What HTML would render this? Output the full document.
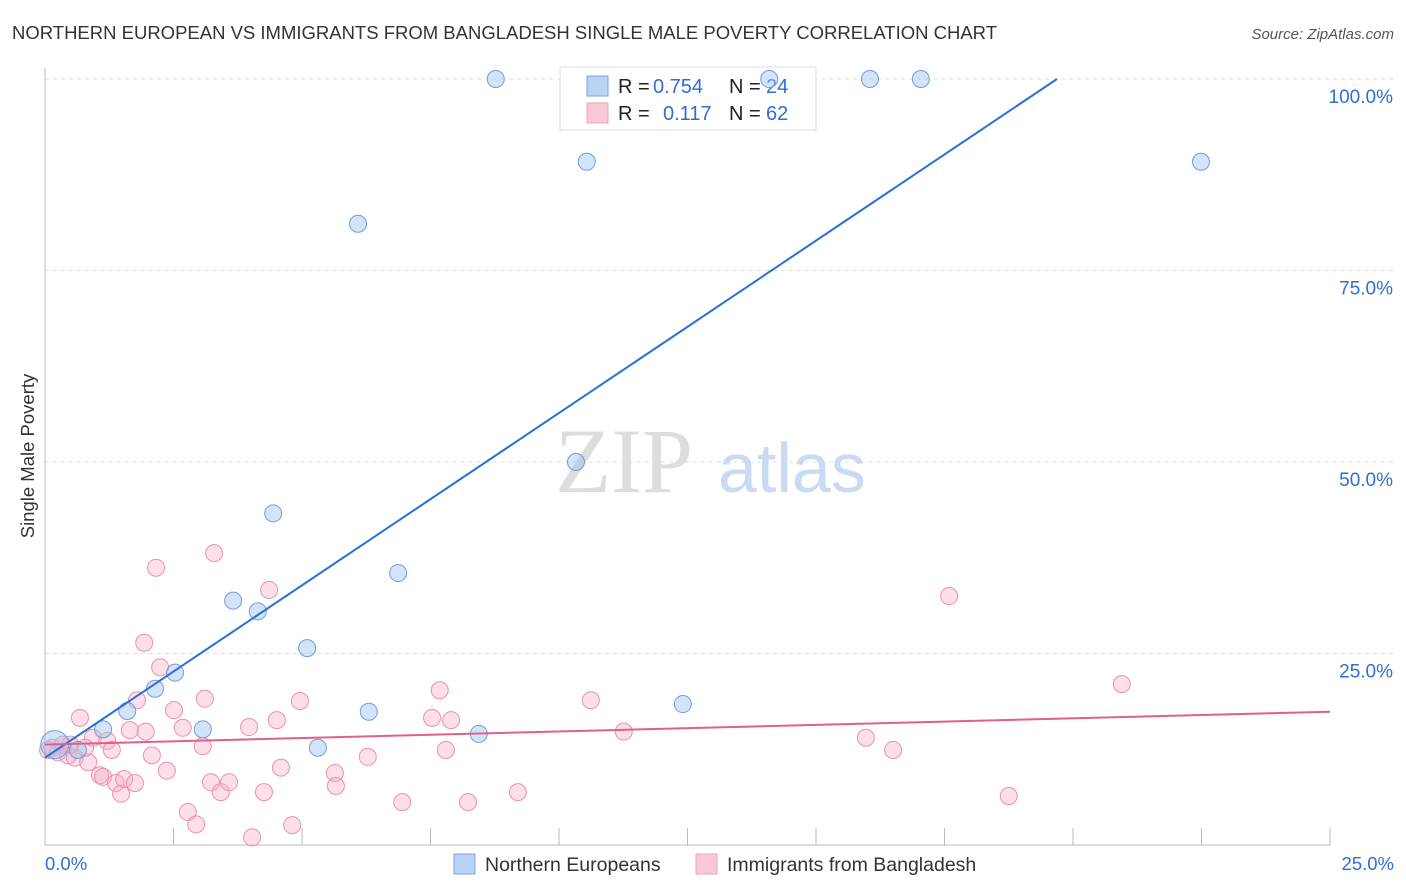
<!DOCTYPE html>
<html><head><meta charset="utf-8"><style>
body{margin:0;background:#fff;font-family:"Liberation Sans",sans-serif;}
svg{display:block}
</style></head><body>
<svg id="chart" width="1406" height="892">
<text x="12" y="39" font-size="18.5" fill="#333" textLength="985" lengthAdjust="spacingAndGlyphs">NORTHERN EUROPEAN VS IMMIGRANTS FROM BANGLADESH SINGLE MALE POVERTY CORRELATION CHART</text>
<text x="1394" y="39" font-size="15" fill="#555" font-style="italic" text-anchor="end">Source: ZipAtlas.com</text>
<text x="34" y="456" font-size="18.5" fill="#333" text-anchor="middle" transform="rotate(-90 34 456)">Single Male Poverty</text>
<g id="grid"></g>
<text x="555" y="492" font-size="92" fill="#ddd" font-family="Liberation Serif,serif">ZIP</text>
<text x="718" y="492" font-size="70" fill="#c9daf2">atlas</text>
<g>
<rect x="560" y="67" width="256" height="63" fill="#fff" stroke="#ddd"/>
<rect x="587" y="76" width="21" height="20" fill="#b9d3f5" stroke="#7aa6e0"/>
<rect x="587" y="103" width="21" height="20" fill="#fbc8d6" stroke="#f0a0b8"/>
<text x="618" y="93" font-size="20" fill="#222">R =</text>
<text x="653" y="93" font-size="20" fill="#2f6ed3">0.754</text>
<text x="729" y="93" font-size="20" fill="#222">N =</text>
<text x="766" y="93" font-size="20" fill="#2f6ed3">24</text>
<text x="618" y="120" font-size="20" fill="#222">R =</text>
<text x="663" y="120" font-size="20" fill="#2f6ed3">0.117</text>
<text x="729" y="120" font-size="20" fill="#222">N =</text>
<text x="766" y="120" font-size="20" fill="#2f6ed3">62</text>
</g>
<g id="marks"></g>
<text x="45" y="870" font-size="18.5" fill="#2f6ed3">0.0%</text>
<text x="1394" y="870" font-size="18.5" fill="#2f6ed3" text-anchor="end">25.0%</text>
<g>
<rect x="454" y="854" width="21" height="20" fill="#b9d3f5" stroke="#7aa6e0"/>
<text x="485" y="871" font-size="19.5" fill="#333">Northern Europeans</text>
<rect x="696" y="854" width="21" height="20" fill="#fbc8d6" stroke="#f0a0b8"/>
<text x="727" y="871" font-size="19.5" fill="#333">Immigrants from Bangladesh</text>
</g>
</svg>
<script>
const yTicks=[25,50,75,100];
const yTickLabels=["25.0%","50.0%","75.0%","100.0%"];
const blueX=[0.19,1.13,1.60,2.14,2.53,0.64,3.66,4.14,4.44,5.10,3.07,5.31,6.30,6.87,8.44,10.33,12.41,6.09,8.77,10.54,14.09,16.05,17.04,22.49];
const blueY=[13.1,15.1,17.5,20.4,22.5,12.4,31.9,30.5,43.3,25.7,15.1,12.7,17.4,35.5,14.5,50.0,18.4,81.1,100,89.2,100,100,100,89.2];
const pinkX=[0.06,0.14,0.25,0.35,0.45,0.58,0.68,0.84,0.93,1.07,1.13,1.21,1.30,1.38,1.48,1.54,1.75,1.79,1.96,2.08,2.16,2.24,2.37,2.51,2.68,2.78,2.94,3.07,3.11,3.23,3.29,3.42,3.58,3.97,4.03,4.26,4.36,4.51,4.59,4.81,4.96,5.64,5.66,6.28,6.95,7.53,7.68,7.80,7.90,8.23,9.20,10.62,11.26,15.97,16.50,17.59,18.75,20.95,1.93,1.65,0.78,0.49];
const pinkY=[12.4,12.7,12.1,13.1,11.7,11.4,16.6,10.8,14.0,9.1,8.9,13.6,12.4,8.1,6.7,8.6,8.1,18.9,14.8,11.7,36.2,23.2,9.7,17.6,15.3,4.3,2.7,12.9,19.1,8.2,38.1,6.9,8.2,15.4,1.0,6.9,33.3,16.3,10.1,2.6,18.8,9.4,7.7,11.5,5.6,16.6,20.2,12.4,16.3,5.6,6.9,18.9,14.8,14.0,12.4,32.5,6.4,21.0,26.4,15.0,12.7,13.1];
const blueTrend=[11.4,4.5];
const pinkTrend=[13.1,0.172];
const NS="http://www.w3.org/2000/svg";
const X=v=>45+v/25*1285, Y=v=>845-v/100*766;
function mk(tag,attrs,parent){const e=document.createElementNS(NS,tag);for(const k in attrs)e.setAttribute(k,attrs[k]);parent.appendChild(e);return e;}
const grid=document.getElementById('grid'),marks=document.getElementById('marks');
yTicks.forEach((t,i)=>{
 const l=mk('line',{x1:45,x2:1394,y1:Y(t),y2:Y(t),stroke:'#ddd','stroke-dasharray':'4,4'},grid);
 
 
 const tx=mk('text',{x:1393,y:Y(t)+24,'font-size':19,fill:'#2f6ed3','text-anchor':'end'},grid);
 tx.textContent=yTickLabels[i];
 
 
});
const ax=mk('path',{d:'M45 68 V845 H1330',stroke:'#bbb',fill:'none'},grid);


for(let i=1;i<=10;i++){const tk=mk('line',{x1:X(i*2.5),x2:X(i*2.5),y1:828,y2:845,stroke:'#bbb'},grid);
 
 }
pinkX.forEach((x,i)=>{const c=mk('circle',{cx:X(x),cy:Y(pinkY[i]),r:8.5,fill:'rgba(247,175,198,0.4)',stroke:'#eb90ae','stroke-width':1},marks);
 
 });
blueX.forEach((x,i)=>{const c=mk('circle',{cx:X(x),cy:Y(blueY[i]),r:i===0?14:8.5,fill:'rgba(160,196,240,0.45)',stroke:'#6d9de0','stroke-width':1},marks);
 
 });
const bxEnd=Math.min(25,(100-blueTrend[0])/blueTrend[1]);
const bl=mk('line',{x1:X(0),y1:Y(blueTrend[0]),x2:X(bxEnd),y2:Y(blueTrend[0]+blueTrend[1]*bxEnd),stroke:'#2a6fd6','stroke-width':2},marks);


const pl=mk('line',{x1:X(0),y1:Y(pinkTrend[0]),x2:X(25),y2:Y(pinkTrend[0]+pinkTrend[1]*25),stroke:'#e0608a','stroke-width':2},marks);


</script>
</body></html>
